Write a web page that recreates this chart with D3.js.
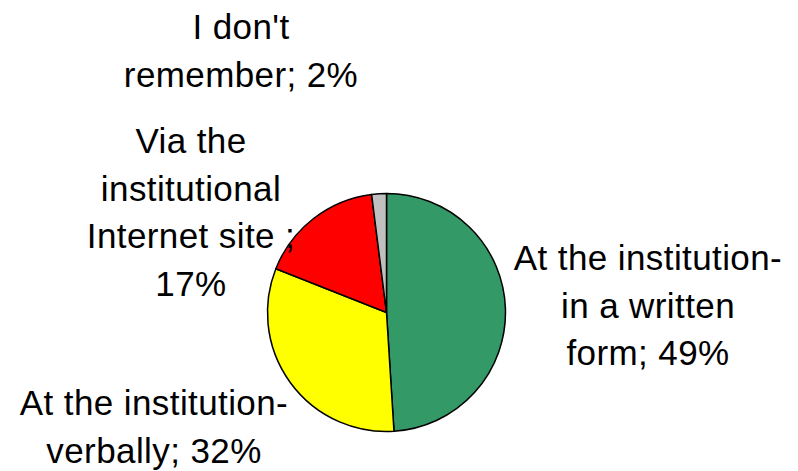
<!DOCTYPE html>
<html>
<head>
<meta charset="utf-8">
<script src="https://cdn.jsdelivr.net/npm/d3@7"></script>
<style>
  html, body { margin: 0; padding: 0; background: #fff; }
  svg { display: block; }
  text { font-family: Arial, "Liberation Sans", sans-serif; font-size: 35px; fill: #000; letter-spacing: 0.4px; }
</style>
</head>
<body>
<svg id="chart" width="798" height="471"></svg>
<script>
const categories = [
  "At the institution- in a written form",
  "At the institution- verbally",
  "Via the institutional Internet site",
  "I don't remember"
];
const values = [49, 32, 17, 2];
const colors = ["#339966", "#ffff00", "#ff0000", "#c0c0c0"];
const labelLines = [
  ["At the institution-", "in a written", "form; 49%"],
  ["At the institution-", "verbally; 32%"],
  ["Via the", "institutional", "Internet site ;", "17%"],
  ["I don't", "remember; 2%"]
];

const svg = d3.select("#chart");
const cx = 386.5, cy = 312.5, r = 119;

const pie = d3.pie().sort(null).value(d => d)(values);
const arc = d3.arc().innerRadius(0).outerRadius(r);

const g = svg.append("g").attr("transform", `translate(${cx},${cy})`);
g.selectAll("path").data(pie).join("path")
  .attr("d", arc)
  .attr("fill", (d, i) => colors[i])
  .attr("stroke", "#000")
  .attr("stroke-width", 1.5)
  .attr("stroke-linejoin", "round");

// label anchor positions (center x, first baseline y)
const labelPos = [
  [648, 270],
  [154, 415],
  [191, 153],
  [241, 39]
];
const lineH = 47.7;

labelLines.forEach((lines, i) => {
  const t = svg.append("text")
    .attr("text-anchor", "middle")
    .attr("x", labelPos[i][0])
    .attr("y", labelPos[i][1]);
  lines.forEach((ln, j) => {
    t.append("tspan")
      .attr("x", labelPos[i][0])
      .attr("dy", j === 0 ? 0 : lineH)
      .text(ln);
  });
});
</script>
</body>
</html>
